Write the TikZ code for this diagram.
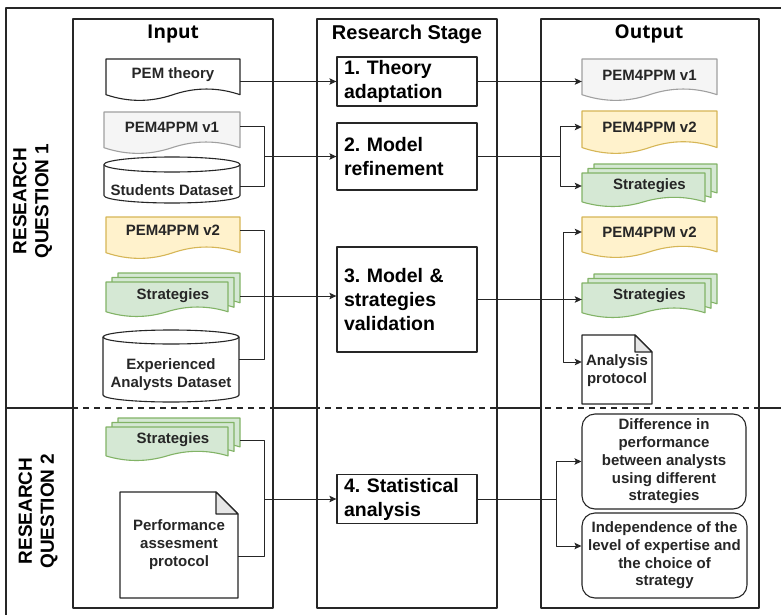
\documentclass[tikz,border=0pt]{standalone}
\usepackage{fontspec}
\setmainfont{Liberation Sans}
\newfontfamily\headfont{Open Sans}
\usetikzlibrary{arrows.meta}
\frenchspacing

\definecolor{ink}{HTML}{262626}
\definecolor{grayfill}{HTML}{F5F5F5}
\definecolor{graydraw}{HTML}{A0A0A0}
\definecolor{yelfill}{HTML}{FFF2CC}
\definecolor{yeldraw}{HTML}{D6B656}
\definecolor{grnfill}{HTML}{D5E8D4}
\definecolor{grndraw}{HTML}{82B366}
\definecolor{foldfill}{HTML}{E6E6E6}

% document with a wavy lower edge: style, left, top, width, height
\newcommand{\docshape}[5]{%
  \pgfmathsetmacro\docL{#2}
  \pgfmathsetmacro\docT{#3}
  \pgfmathsetmacro\docW{#4}
  \pgfmathsetmacro\docH{#5}
  \draw[#1] (\docL,\docT) -- (\docL+\docW,\docT) -- (\docL+\docW,\docT+0.85*\docH)
    .. controls (\docL+5*\docW/6,\docT+0.67*\docH) and (\docL+2*\docW/3,\docT+0.67*\docH)
    .. (\docL+\docW/2,\docT+0.85*\docH)
    .. controls (\docL+\docW/3,\docT+1.03*\docH) and (\docL+\docW/6,\docT+1.03*\docH)
    .. (\docL,\docT+0.85*\docH) -- cycle;}

% three stacked documents
\newcommand{\multidoc}[5]{%
  \docshape{#1}{#2+12}{#3}{#4-12}{#5-9}
  \docshape{#1}{#2+6}{#3+4.5}{#4-12}{#5-9}
  \docshape{#1}{#2}{#3+9}{#4-12}{#5-9}}

% database cylinder: style, left, top, width, height, y radius
\newcommand{\cylshape}[6]{%
  \pgfmathsetmacro\cylR{#2+#4}
  \pgfmathsetmacro\cylM{#2+#4/2}
  \pgfmathsetmacro\cylA{#3+#6}
  \pgfmathsetmacro\cylB{#3+#5-#6}
  \pgfmathsetmacro\cylkx{0.5523*#4/2}
  \pgfmathsetmacro\cylky{0.5523*#6}
  \draw[#1] (#2,\cylA) -- (#2,\cylB)
     .. controls (#2,\cylB+\cylky) and (\cylM-\cylkx,\cylB+#6) .. (\cylM,\cylB+#6)
     .. controls (\cylM+\cylkx,\cylB+#6) and (\cylR,\cylB+\cylky) .. (\cylR,\cylB)
     -- (\cylR,\cylA)
     .. controls (\cylR,\cylA-\cylky) and (\cylM+\cylkx,#3) .. (\cylM,#3)
     .. controls (\cylM-\cylkx,#3) and (#2,\cylA-\cylky) .. (#2,\cylA) -- cycle;
  \draw[#1,fill=none] (#2,\cylA)
     .. controls (#2,\cylA+\cylky) and (\cylM-\cylkx,\cylA+#6) .. (\cylM,\cylA+#6)
     .. controls (\cylM+\cylkx,\cylA+#6) and (\cylR,\cylA+\cylky) .. (\cylR,\cylA);}

% page with folded corner: style, left, top, width, height, fold
\newcommand{\noteshape}[6]{%
  \draw[#1] (#2,#3) -- (#2+#4-#6,#3) -- (#2+#4,#3+#6) -- (#2+#4,#3+#5)
    -- (#2,#3+#5) -- cycle;
  \draw[#1,fill=foldfill] (#2+#4-#6,#3) -- (#2+#4-#6,#3+#6) -- (#2+#4,#3+#6) -- cycle;}

\begin{document}
\begin{tikzpicture}[x=1pt,y=-1pt,line join=round,
colbox/.style={draw=ink,fill=white,line width=1.1pt},
colhead/.style={font=\headfont\bfseries\fontsize{19}{22}\selectfont},
stagehead/.style={font=\bfseries\fontsize{20}{24}\selectfont},
rqlabel/.style={font=\bfseries\fontsize{19}{22}\selectfont,align=center,rotate=90},
stagebox/.style={draw=ink,line width=1.3pt,fill=white,inner xsep=7pt,text width=126pt,
  align=left,font=\bfseries\fontsize{19.5}{24}\selectfont},
itemtext/.style={inner sep=0pt,align=center,text=ink,font=\bfseries\fontsize{15}{18}\selectfont},
outbox/.style={draw=ink,line width=1.1pt,rounded corners=13pt,fill=white,align=center,
  inner sep=0pt,text=ink,font=\bfseries\fontsize{15}{17.7}\selectfont},
whited/.style={draw=ink,fill=white,line width=1.1pt},
grayd/.style={draw=graydraw,fill=grayfill,line width=1.1pt},
yeld/.style={draw=yeldraw,fill=yelfill,line width=1.1pt},
grnd/.style={draw=grndraw,fill=grnfill,line width=1.1pt},
link/.style={draw=ink,line width=1pt},
arr/.style={link,-{Stealth[length=7pt,width=6.5pt,inset=1.5pt]}}]

\useasboundingbox (0,0) rectangle (781,615);

% frame and the split between the two questions
\draw[ink,line width=1.3pt] (6,615) -- (6,8) -- (781,8);
\draw[ink,line width=1.3pt] (6,408) -- (781,408);

% columns
\draw[colbox] (73,19) rectangle (273,608);
\draw[colbox] (317,19) rectangle (497,608);
\draw[colbox] (541,19) rectangle (759,608);
\draw[ink,line width=1.3pt,dash pattern=on 6pt off 5pt] (6,408) -- (781,408);

\draw (173,34) node[colhead] (inhead) {Input};
\draw (407,34) node[stagehead] (stagehead) {Research Stage};
\draw (649,34) node[colhead] (outhead) {Output};

\draw (32.5,201) node[rqlabel] (rq1) {RESEARCH\\QUESTION 1};
\draw (38,511) node[rqlabel] (rq2) {RESEARCH\\QUESTION 2};

% inputs
\docshape{whited}{106}{59}{134}{42}
\docshape{grayd}{104}{112}{136}{42}
\cylshape{whited}{104}{157}{136}{46}{7.5}
\docshape{yeld}{106}{217}{134}{42}
\multidoc{grnd}{106}{273}{134}{44}
\cylshape{whited}{103}{330}{136}{72}{7}
\multidoc{grnd}{106}{418}{134}{43}
\noteshape{whited}{120}{492}{118}{106}{22}

\draw (173,75) node[itemtext,minimum width=134pt] (pemth) {PEM theory};
\draw (172,127) node[itemtext,minimum width=136pt] (inv1) {PEM4PPM v1};
\draw (172,190) node[itemtext,minimum width=136pt] (students) {Students Dataset};
\draw (173,230) node[itemtext,minimum width=134pt] (inv2) {PEM4PPM v2};
\draw (173,296) node[itemtext,minimum width=134pt] (instr1) {Strategies};
\draw (171,375) node[itemtext,minimum width=136pt] (expdata) {Experienced\\Analysts Dataset};
\draw (173,440) node[itemtext,minimum width=134pt] (instr2) {Strategies};
\draw (179,545) node[itemtext,minimum width=118pt] (perfprot) {Performance\\assesment\\protocol};

% research stages
\draw (407,81.5) node[stagebox,minimum height=47pt] (s1) {1. Theory\\adaptation};
\draw (407,156.5) node[stagebox,minimum height=67pt] (s2) {2. Model\\refinement};
\draw (407,299.5) node[stagebox,minimum height=105pt] (s3) {3. Model \&\\strategies\\validation};
\draw (407,499) node[stagebox,minimum height=48pt] (s4) {4. Statistical\\analysis};

% outputs
\docshape{grayd}{582}{59}{135}{42}
\docshape{yeld}{582}{111}{135}{43}
\multidoc{grnd}{582}{164}{135}{43}
\docshape{yeld}{582}{217}{135}{41}
\multidoc{grnd}{582}{274}{135}{44}
\noteshape{whited}{582}{335}{70}{69}{17}

\draw (649.5,75) node[itemtext,minimum width=135pt] (outv1) {PEM4PPM v1};
\draw (649.5,127) node[itemtext,minimum width=135pt] (outv2) {PEM4PPM v2};
\draw (649.5,186) node[itemtext,minimum width=135pt] (outstr1) {Strategies};
\draw (649.5,232) node[itemtext,minimum width=135pt] (outv2b) {PEM4PPM v2};
\draw (649.5,296) node[itemtext,minimum width=135pt] (outstr2) {Strategies};
\draw (617,371) node[itemtext,minimum width=70pt] (anaprot) {Analysis\\protocol};
\draw (664,461.5) node[outbox,minimum width=164pt,minimum height=95pt] (diffperf)
  {Difference in\\performance\\between analysts\\using different\\strategies};
\draw (664.5,555.5) node[outbox,minimum width=165pt,minimum height=85pt] (indep)
  {Independence of the\\level of expertise and\\the choice of\\strategy};

% junctions
\coordinate (join2) at (264,156.5);
\coordinate (split2) at (560,156.5);
\coordinate (join3) at (264,296);
\coordinate (split3) at (563,299.5);
\coordinate (join4) at (264,499);
\coordinate (split4) at (556,499);

% connectors
\draw[arr] (s1.west -| pemth.east) -- (s1.west);
\draw[arr] (s1.east) -- (s1.east -| outv1.west);

\draw[link] (inv1.east) -| (join2);
\draw[link] ([yshift=4pt]students.east) -| (join2);
\draw[arr] (join2) -- (s2.west);
\draw[link] (s2.east) -- (split2);
\draw[arr] (split2) |- (outv2.west);
\draw[arr] (split2) |- (outstr1.west);

\draw[link] (inv2.east) -| (join3);
\draw[link] ([yshift=16pt]expdata.east) -| (join3);
\draw[arr] (instr1.east) -- (instr1.east -| s3.west);
\draw[link] (s3.east) -- (split3);
\draw[arr] (split3) |- (outv2b.west);
\draw[arr] (s3.east) -- (s3.east -| outstr2.west);
\draw[arr] (split3) |- ([yshift=9pt]anaprot.west);

\draw[link] (instr2.east) -| (join4);
\draw[link] ([yshift=-11pt]perfprot.east) -| (join4);
\draw[arr] (join4) -- (s4.west);
\draw[link] (s4.east) -- (split4);
\draw[arr] (split4) |- (diffperf.west);
\draw[arr] (split4) |- ([yshift=9.5pt]indep.west);
\end{tikzpicture}
\end{document}
